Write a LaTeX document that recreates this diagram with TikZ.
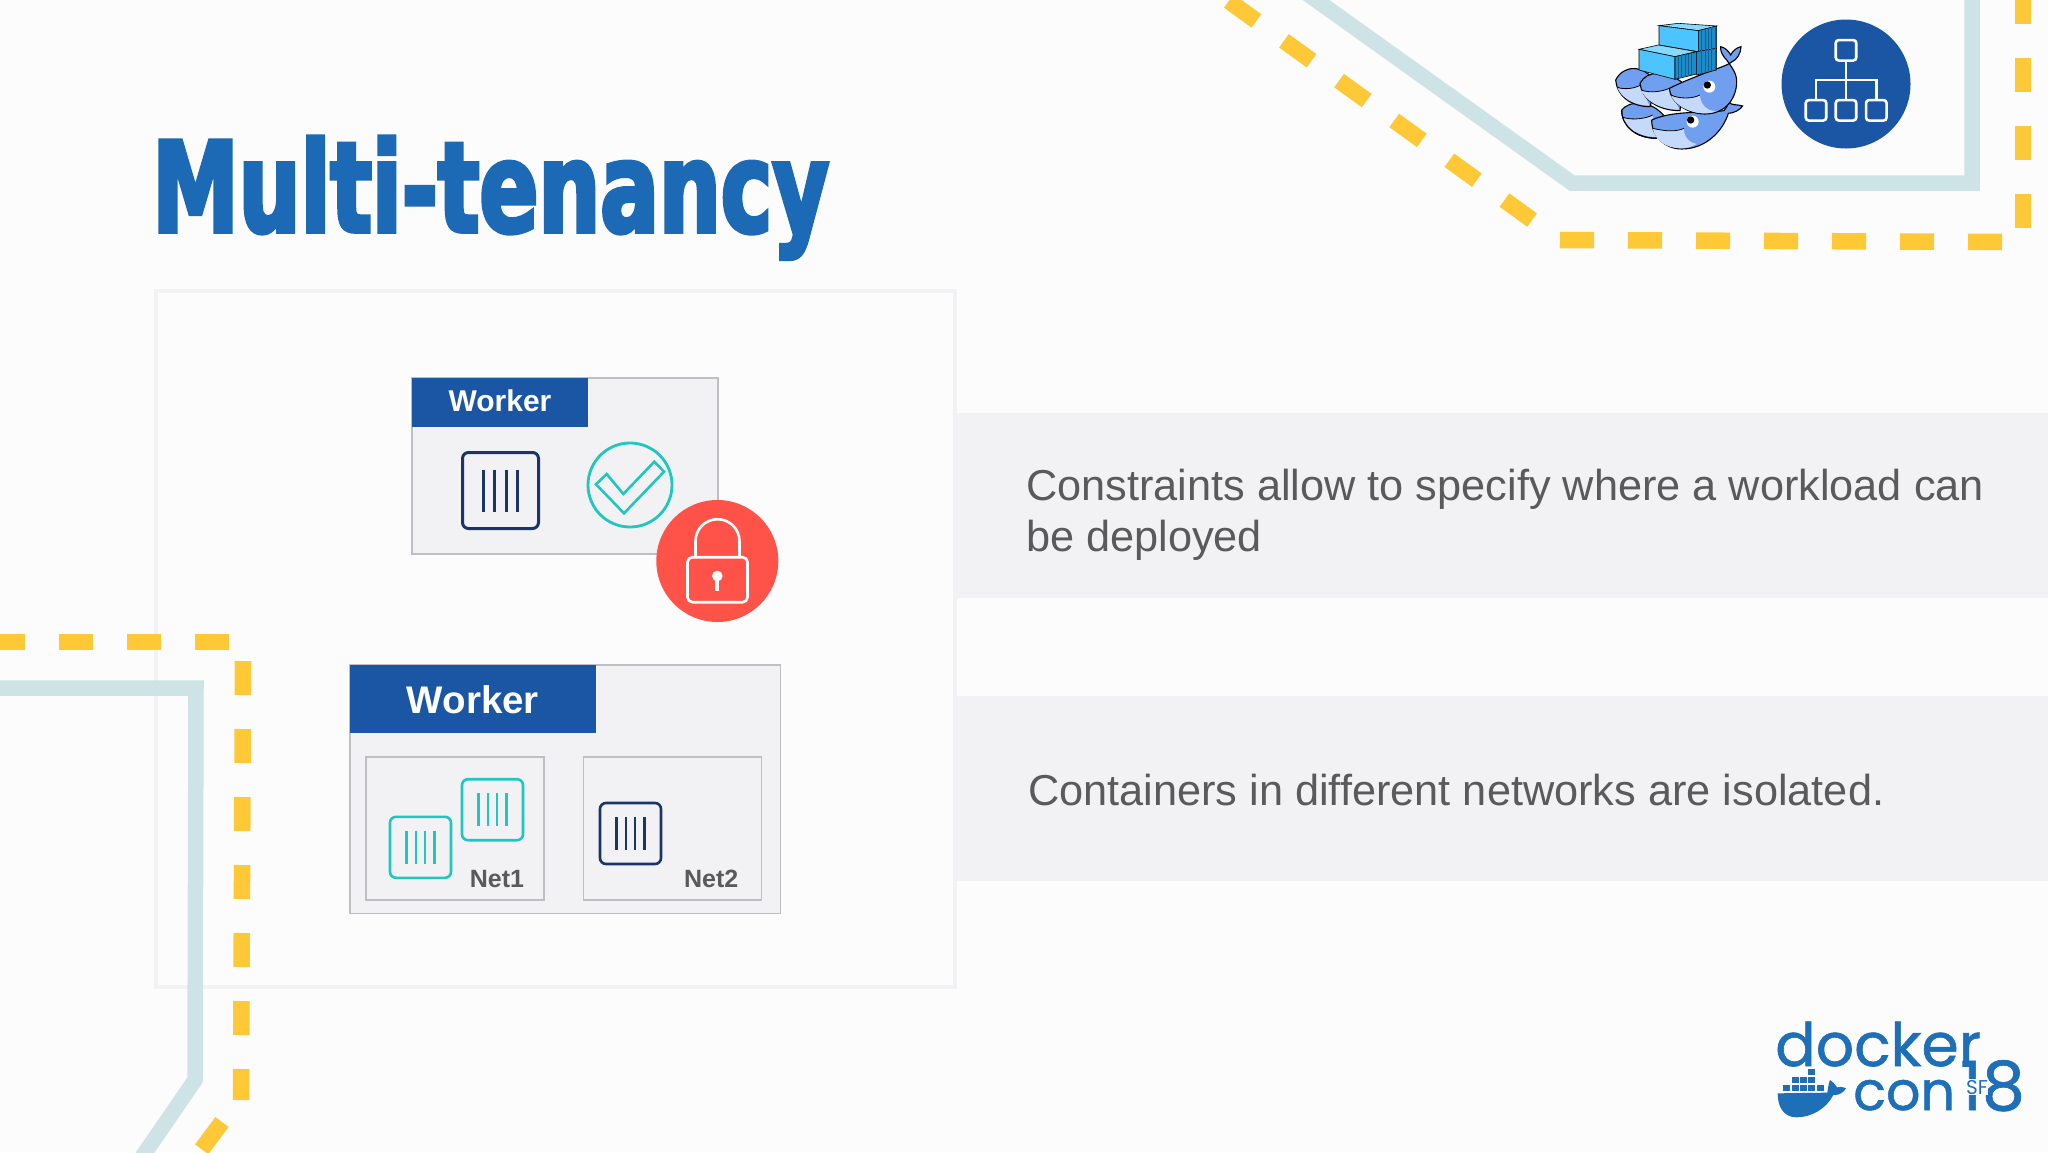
\documentclass[tikz,border=0pt]{standalone}
\usepackage{fontspec}
\usepackage{tikz}
\setmainfont{Liberation Sans}
\newfontfamily\titlefont[FakeStretch=0.69,FakeBold=3]{DejaVu Sans}
\newfontfamily\logofont[FakeBold=1]{Poppins}
\newfontfamily\logothin{Poppins}

\definecolor{slideblue}{HTML}{1C69B5}
\definecolor{headblue}{HTML}{1A56A4}
\definecolor{bandgrey}{HTML}{F2F1F3}
\definecolor{edgegrey}{HTML}{BFBFC3}
\definecolor{textgrey}{HTML}{5A5A5C}
\definecolor{paleline}{HTML}{CEE3E6}
\definecolor{dashyellow}{HTML}{FFC836}
\definecolor{navy}{HTML}{1C3566}
\definecolor{teal}{HTML}{1FC7BF}
\definecolor{lockred}{HTML}{FF5349}
\definecolor{whaleblue}{HTML}{6F9FEE}
\definecolor{whalepale}{HTML}{C5DAFB}
\definecolor{boxcyan}{HTML}{4CC4FF}
\definecolor{boxtop}{HTML}{86DAFF}
\definecolor{boxside}{HTML}{1D8BC9}
\definecolor{logoblue}{HTML}{1D6FB8}

\tikzset{
  band/.style={fill=bandgrey, draw=none, minimum width=1093pt, minimum height=185pt, inner sep=0, outer sep=0},
  bandtext/.style={text=textgrey, anchor=base west, align=left, inner sep=0, font=\fontsize{43.3}{51}\selectfont},
  workerbox/.style={fill=bandgrey, draw=edgegrey, line width=1.6pt, inner sep=0, outer sep=0},
  workerhead/.style={fill=headblue, text=white, inner sep=0, outer sep=0, anchor=north west, text depth=0pt},
  netbox/.style={draw=edgegrey, line width=1.6pt, minimum width=178pt, minimum height=143pt, inner sep=0, outer sep=0},
  netlabel/.style={text=textgrey, anchor=base east, inner sep=0, font=\bfseries\fontsize{25}{28}\selectfont},
  ctrbox/.style={rounded corners=6pt, fill=bandgrey, inner sep=0, outer sep=0},
  yellowdash/.style={draw=dashyellow, line width=16.5pt, dash pattern=on 34pt off 34pt},
  paleroad/.style={draw=paleline, line width=15.5pt, miter limit=10},
  neticon/.style={draw=white, line width=2.6pt, rounded corners=3pt, minimum size=20.5pt, inner sep=0, outer sep=0},
  whaleline/.style={draw=black, line width=1.1pt, fill=whaleblue},
  logotext/.style={text=logoblue, anchor=base west, inner sep=0}
}

\begin{document}
\begin{tikzpicture}[x=1pt, y=-1pt]

\useasboundingbox (0, 0) rectangle (2048, 1152);
\clip (0, 0) rectangle (2048, 1152);
\fill[white!99!black] (0, 0) rectangle (2048, 1152);

% frame and grey bands
\node[draw=bandgrey, line width=4pt, minimum width=799pt, minimum height=696pt, inner sep=0] (frame) at (555.5, 639) {};
\node[band, anchor=north west] (bandA) at (955, 413) {};
\node[band, anchor=north west] (bandB) at (955, 696) {};

\node[bandtext] (textA) at (1026, 551.5) {Constraints allow to specify where a workload can\\be deployed};
\node[bandtext] (textB) at (1028, 805) {Containers in different networks are isolated.};

% the title
\node[text=slideblue, anchor=base west, inner sep=0, font=\titlefont\bfseries\fontsize{126}{140}\selectfont] (title) at (152, 232) {Multi-tenancy};

% pale lines
\draw[paleroad] (-10, 688) -- (196, 688) -- (195, 1080) -- (140, 1160);
\draw[paleroad] (1302, -10) -- (1572, 183) -- (1972, 183) -- (1972, -20);

% yellow dashes
\draw[yellowdash] (229, 642) -- (-20, 642);
\draw[yellowdash] (243, 661) -- (241, 1100);
\draw[yellowdash] (222, 1122) -- (190, 1165);
\draw[yellowdash] (1532, 220) -- (1208, -14);
\draw[yellowdash] (1560, 240) -- (2003, 242);
\draw[yellowdash] (2023, 228) -- (2023, -30);

% upper worker
\node[workerbox, minimum width=306pt, minimum height=176pt] (workerA) at (565, 466) {};
\node[workerhead, minimum width=176pt, minimum height=49pt, text height=18.4pt, font=\bfseries\fontsize{30}{34}\selectfont] (headA) at (workerA.north west) {Worker};
\node[ctrbox, draw=navy, line width=3pt, minimum size=76pt] (ctrA) at (500.5, 490.5) {};
\foreach \dx in {-17, -6, 6, 17}
  \draw[navy, line width=2.8pt] ([shift={(\dx, -21)}]ctrA.center) -- ([shift={(\dx, 21)}]ctrA.center);

\node[circle, draw=teal, line width=2.8pt, minimum size=84pt, inner sep=0] (okmark) at (630, 485) {};
\draw[teal, line width=2.6pt] (596, 484.3) -- (606.7, 474) -- (623.3, 494) -- (654.3, 461.7) -- (664, 471.7) -- (624, 513.3) -- cycle;

% the lock
\node[circle, fill=lockred, minimum size=122pt, inner sep=0] (lock) at (717.3, 561) {};
\node[draw=white, line width=2.6pt, rounded corners=5pt, minimum width=60pt, minimum height=45pt, inner sep=0, outer sep=0] (lockbody) at (717.5, 579.7) {};
\draw[white, line width=2.6pt] ([xshift=-22pt]lockbody.north) -- +(0, -16) arc[start angle=180, end angle=0, x radius=22, y radius=-22] -- ([xshift=22pt]lockbody.north);
\fill[white] (717.3, 576) circle[radius=5.3];
\draw[white, line width=4pt] (717.3, 576) -- (717.3, 591);

% lower worker
\node[workerbox, minimum width=430.7pt, minimum height=248.3pt] (workerB) at (565.3, 789.2) {};
\node[workerhead, minimum width=246pt, minimum height=67.7pt, text height=30pt, font=\bfseries\fontsize{38.5}{42}\selectfont] (headB) at (workerB.north west) {Worker};
\node[netbox] (netA) at (455, 828.2) {};
\node[netbox] (netB) at (672.3, 828.2) {};
\node[netlabel] (labelA) at (524.3, 887) {Net1};
\node[netlabel] (labelB) at (738.5, 887) {Net2};

\node[ctrbox, draw=teal, line width=2.6pt, minimum size=61pt] (ctrB) at (420.5, 847.3) {};
\node[ctrbox, draw=teal, line width=2.6pt, minimum size=61pt] (ctrC) at (492.5, 809.7) {};
\node[ctrbox, draw=navy, line width=2.6pt, minimum size=61pt] (ctrD) at (630.5, 833.5) {};
\foreach \ctr/\col in {ctrB/teal, ctrC/teal, ctrD/navy}
  \foreach \dx in {-14, -4.7, 4.7, 14}
    \draw[\col, line width=2.2pt] ([shift={(\dx, -16.7)}]\ctr.center) -- ([shift={(\dx, 16.7)}]\ctr.center);

% network icon
\node[circle, fill=headblue, minimum size=129pt, inner sep=0] (netcircle) at (1846, 84) {};
\node[neticon] (treetop) at (1846, 50.3) {};
\node[neticon] (treeleft) at (1816, 110.3) {};
\node[neticon] (treemid) at (1846, 110.3) {};
\node[neticon] (treeright) at (1876.3, 110.3) {};
\coordinate (treejoin) at (1846, 80);
\draw[white, line width=2.6pt] (treetop) -- (treemid);
\draw[white, line width=2.6pt] (treeleft) |- (treejoin) -| (treeright);

% swarm whales
\begin{scope}[shift={(1550, 0)}, x=0.3333pt, y=-0.3333pt]
  % lower row
  \draw[whaleline] (215, 330) .. controls (215, 380) and (260, 415) .. (320, 415) -- (340, 345) .. controls (300, 300) and (240, 300) .. (215, 330);
  \fill[whalepale] (218, 352) .. controls (250, 362) and (290, 355) .. (308, 345) -- (318, 411) .. controls (265, 410) and (228, 385) .. (218, 352);
  \draw[black, line width=1.1pt] (215, 330) .. controls (215, 380) and (260, 415) .. (320, 415);
  \draw[black, line width=0.8pt] (218, 352) .. controls (250, 362) and (290, 355) .. (308, 345);
  \draw[whaleline] (305, 360) .. controls (305, 410) and (345, 447) .. (395, 447) .. controls (470, 447) and (520, 390) .. (535, 340) .. controls (550, 340) and (570, 330) .. (578, 318) .. controls (560, 312) and (545, 318) .. (535, 305) .. controls (532, 318) and (530, 325) .. (522, 332) .. controls (470, 340) and (370, 330) .. (305, 360);
  \fill[whalepale] (308, 385) .. controls (350, 395) and (380, 395) .. (402, 385) .. controls (400, 410) and (420, 430) .. (440, 432) .. controls (420, 443) and (405, 445) .. (395, 445) .. controls (345, 445) and (315, 420) .. (308, 385);
  \draw[black, line width=0.8pt] (308, 385) .. controls (350, 395) and (380, 395) .. (402, 385);
  \fill[white] (428, 365) circle[radius=18];
  \fill[black] (422, 360) circle[radius=11];
  % upper row
  \draw[whaleline] (197, 240) .. controls (200, 285) and (240, 320) .. (300, 320) -- (320, 250) .. controls (280, 190) and (220, 195) .. (197, 240);
  \fill[whalepale] (202, 262) .. controls (225, 270) and (255, 265) .. (272, 255) -- (298, 317) .. controls (245, 315) and (212, 290) .. (202, 262);
  \draw[black, line width=0.8pt] (202, 262) .. controls (225, 270) and (255, 265) .. (272, 255);
  \draw[whaleline] (270, 250) .. controls (275, 295) and (320, 332) .. (390, 332) -- (400, 250) .. controls (350, 210) and (290, 210) .. (270, 250);
  \fill[whalepale] (273, 270) .. controls (300, 280) and (335, 275) .. (358, 265) -- (388, 329) .. controls (325, 328) and (285, 300) .. (273, 270);
  \draw[black, line width=0.8pt] (273, 270) .. controls (300, 280) and (335, 275) .. (358, 265);
  \draw[whaleline] (358, 265) .. controls (360, 305) and (410, 342) .. (465, 342) .. controls (530, 342) and (562, 290) .. (560, 240) .. controls (558, 215) and (540, 195) .. (530, 180) .. controls (520, 170) and (510, 155) .. (512, 140) .. controls (525, 143) and (535, 152) .. (542, 165) .. controls (548, 152) and (560, 143) .. (573, 140) .. controls (573, 160) and (560, 180) .. (545, 186) .. controls (530, 200) and (450, 220) .. (358, 265);
  \fill[whalepale] (362, 285) .. controls (390, 297) and (425, 297) .. (450, 285) .. controls (450, 310) and (470, 335) .. (500, 333) .. controls (485, 340) and (475, 340) .. (465, 340) .. controls (415, 340) and (375, 315) .. (362, 285);
  \draw[black, line width=0.8pt] (362, 285) .. controls (390, 297) and (425, 297) .. (450, 285);
  \fill[white] (478, 260) circle[radius=18];
  \fill[black] (472, 255) circle[radius=11];
  % containers
  \draw[black, line width=0.6pt, fill=boxtop] (327, 77) -- (385, 70) -- (500, 78) -- (445, 92) -- cycle;
  \draw[black, line width=0.6pt, fill=boxcyan] (327, 77) -- (445, 92) -- (445, 155) -- (327, 135) -- cycle;
  \draw[black, line width=0.6pt, fill=boxside] (445, 92) -- (500, 78) -- (500, 145) -- (445, 155) -- cycle;
  \draw[black, line width=0.6pt, fill=boxside] (440, 155) -- (500, 145) -- (500, 210) -- (440, 225) -- cycle;
  \draw[black, line width=0.6pt, fill=boxtop] (267, 148) -- (325, 135) -- (440, 155) -- (375, 170) -- cycle;
  \draw[black, line width=0.6pt, fill=boxcyan] (267, 148) -- (375, 170) -- (375, 238) -- (267, 210) -- cycle;
  \draw[black, line width=0.6pt, fill=boxside] (375, 170) -- (440, 155) -- (440, 222) -- (375, 238) -- cycle;
  \foreach \dx in {10, 20, ..., 50}
    \draw[black!30!boxside, line width=0.5pt] (375 + \dx, 170 - \dx * 0.23) -- (375 + \dx, 238 - \dx * 0.25);
  \foreach \dx in {10, 20, ..., 50} {
    \draw[black!30!boxside, line width=0.5pt] (445 + \dx, 92 - \dx * 0.25) -- (445 + \dx, 155 - \dx * 0.18);
    \draw[black!30!boxside, line width=0.5pt] (445 + \dx, 155 - \dx * 0.18) -- (445 + \dx, 224 - \dx * 0.25);
  }
\end{scope}

% docker logo
\node[logotext, font=\logofont\fontsize{60}{60}\selectfont] (logoA) at (1775, 1066) {docker};
\node[logotext, font=\logofont\fontsize{54}{54}\selectfont] (logoB) at (1853, 1110) {con};
\node[logotext, font=\logofont\fontsize{68}{68}\selectfont] (logoC) at (1960, 1110) {18};
\node[logotext, anchor=center, fill=white, inner sep=0.5pt, font=\logothin\fontsize{20}{20}\selectfont] (logoD) at (1977, 1087) {SF};

\begin{scope}[shift={(1740, 1000)}, x=0.3333pt, y=-0.3333pt]
  \fill[logoblue] (113, 280) -- (262, 278) .. controls (265, 255) and (268, 245) .. (270, 240) .. controls (285, 250) and (290, 262) .. (292, 262) .. controls (305, 258) and (318, 265) .. (318, 265) .. controls (305, 285) and (290, 285) .. (280, 285) .. controls (260, 325) and (215, 352) .. (170, 352) .. controls (130, 352) and (113, 320) .. (113, 280) -- cycle;
  \foreach \bx in {130, 155, 180, 205, 230}
    \fill[logoblue] (\bx, 256) rectangle +(21, 18);
  \foreach \bx in {155, 180, 205}
    \fill[logoblue] (\bx, 232) rectangle +(21, 18);
  \fill[logoblue] (205, 208) rectangle +(21, 18);
\end{scope}

\end{tikzpicture}
\end{document}
